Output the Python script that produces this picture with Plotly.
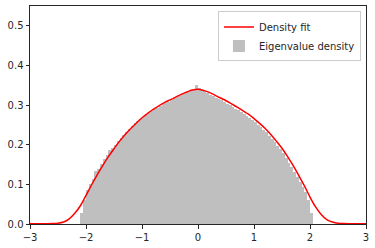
import plotly.graph_objects as go

# Histogram bins (width 0.05, from -2.1 to 2.1)
bin_left = -2.1
bin_width = 0.05
hist_heights = [
    0.029, 0.061, 0.085, 0.100, 0.114, 0.133, 0.140, 0.152, 0.163, 0.174,
    0.186, 0.193, 0.200, 0.210, 0.218, 0.225, 0.233, 0.240, 0.246, 0.254,
    0.259, 0.265, 0.270, 0.276, 0.281, 0.285, 0.289, 0.293, 0.297, 0.302,
    0.305, 0.309, 0.313, 0.317, 0.320, 0.324, 0.327, 0.331, 0.334, 0.337,
    0.339, 0.350, 0.343, 0.337, 0.333, 0.330, 0.326, 0.322, 0.318, 0.315,
    0.312, 0.307, 0.304, 0.300, 0.296, 0.291, 0.287, 0.283, 0.278, 0.273,
    0.268, 0.263, 0.257, 0.251, 0.245, 0.238, 0.231, 0.223, 0.215, 0.207,
    0.198, 0.188, 0.178, 0.166, 0.154, 0.143, 0.131, 0.118, 0.106, 0.093,
    0.082, 0.060, 0.029,
]
hist_centers = [round(bin_left + bin_width * (i + 0.5), 4) for i in range(len(hist_heights))]

# Density fit curve
fit_x = [round(-3.0 + 0.1 * i, 2) for i in range(61)]
fit_y = [
    0.0005, 0.0005, 0.0006, 0.0008, 0.0012, 0.002, 0.005, 0.013, 0.027, 0.046,
    0.072, 0.099, 0.124, 0.148, 0.170, 0.190, 0.209, 0.226, 0.241, 0.255,
    0.268, 0.279, 0.289, 0.298, 0.306, 0.313, 0.320, 0.327, 0.333, 0.338,
    0.340, 0.337, 0.332, 0.325, 0.318, 0.311, 0.303, 0.295, 0.286, 0.277,
    0.266, 0.254, 0.241, 0.226, 0.209, 0.191, 0.170, 0.147, 0.122, 0.096,
    0.068, 0.043, 0.024, 0.011, 0.005, 0.002, 0.0012, 0.0008, 0.0006, 0.0005,
    0.0005,
]

x_ticks = [-3, -2, -1, 0, 1, 2, 3]
y_ticks = [0.0, 0.1, 0.2, 0.3, 0.4, 0.5]

fig = go.Figure()
fig.add_trace(go.Bar(
    x=hist_centers, y=hist_heights, width=bin_width,
    marker=dict(color="#bfbfbf", line=dict(width=0)),
    name="Eigenvalue density", legendrank=2,
))
fig.add_trace(go.Scatter(
    x=fit_x, y=fit_y, mode="lines", line=dict(color="red", width=1.5, shape="spline"),
    name="Density fit", legendrank=1,
))

axis_common = dict(
    showline=True, linecolor="#262626", linewidth=1, mirror=True,
    ticks="outside", ticklen=3.5, tickwidth=1, tickcolor="#262626",
    showgrid=False, zeroline=False, automargin=False,
    tickfont=dict(family="DejaVu Sans", size=10, color="#262626"),
)
fig.update_xaxes(range=[-3, 3], tickvals=x_ticks, **axis_common)
fig.update_yaxes(range=[0, 0.55], tickvals=y_ticks, tickformat=".1f", **axis_common)

fig.update_layout(
    width=375, height=248,
    margin=dict(l=30, r=9, t=6, b=24),
    plot_bgcolor="white", paper_bgcolor="white",
    bargap=0,
    font=dict(family="DejaVu Sans", size=10, color="#262626"),
    legend=dict(
        x=0.985, y=0.975, xanchor="right", yanchor="top",
        bgcolor="rgba(255,255,255,0.8)", bordercolor="#cccccc", borderwidth=1,
        font=dict(size=10), tracegroupgap=0, itemwidth=30,
    ),
)

fig.write_html(
    "out.html",
    config={"displayModeBar": False},
    post_script="document.body.style.margin='0';document.body.style.overflow='hidden';",
)
